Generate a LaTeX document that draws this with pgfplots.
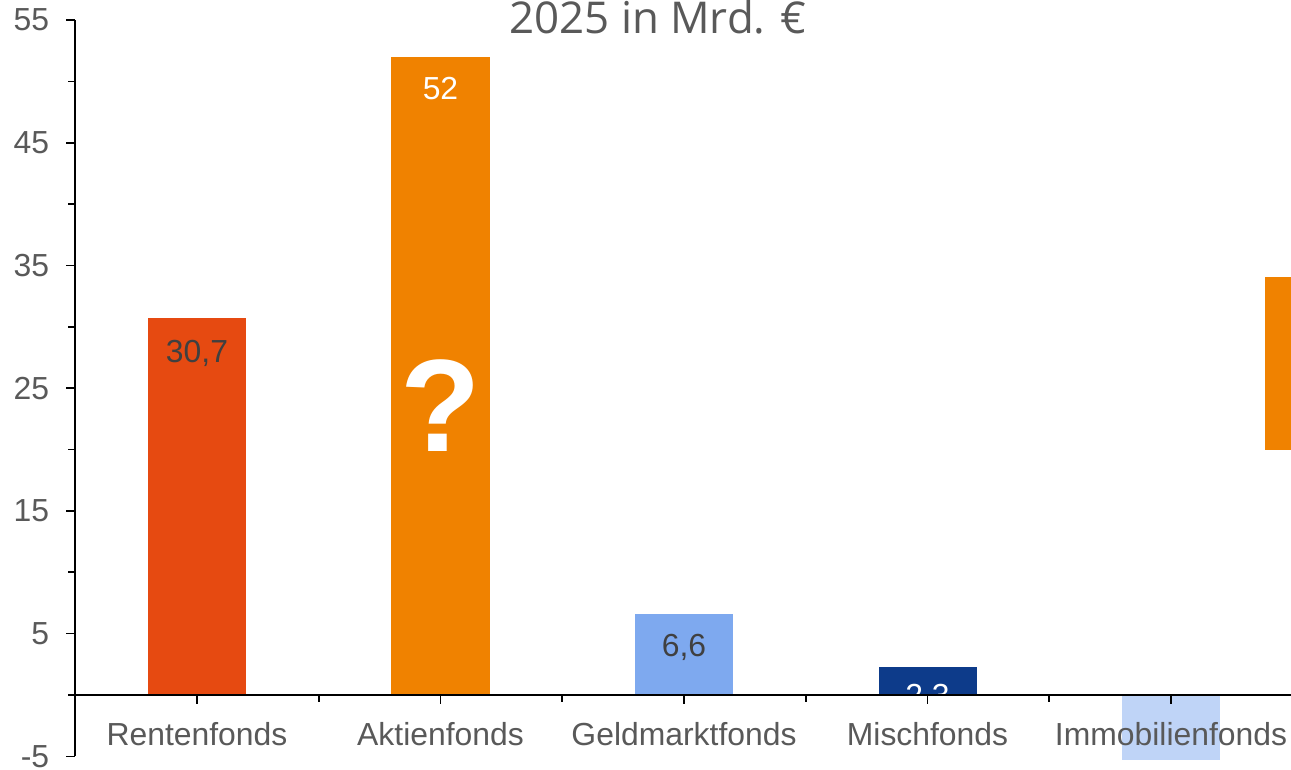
\documentclass[border=0pt]{standalone}
\usepackage{fontspec}
\setmainfont{Liberation Sans}
\newfontfamily\titlefont{Open Sans}
\usepackage{pgfplots}
\pgfplotsset{compat=1.18}
\definecolor{rent}{HTML}{E64A11}
\definecolor{akt}{HTML}{F08200}
\definecolor{geld}{HTML}{7EA9EF}
\definecolor{misch}{HTML}{0D3B8A}
\definecolor{immo}{HTML}{BFD4F7}
\definecolor{labgray}{HTML}{595959}
\definecolor{valgray}{HTML}{404040}
\begin{document}
\begin{tikzpicture}
\begin{axis}[
  x=121.75bp, y=6.135bp,
  xmin=-0.5, xmax=4.5, ymin=-5, ymax=55,
  axis x line=middle, axis y line=left,
  axis line style={-, black, line width=0.9bp},
  xtick={0,1,2,3,4},
  xticklabels={Rentenfonds,Aktienfonds,Geldmarktfonds,Mischfonds,Immobilienfonds},
  minor xtick={-0.5,0.5,1.5,2.5,3.5,4.5},
  ytick={-5,5,15,25,35,45,55},
  minor ytick={0,10,20,30,40,50},
  tick align=outside,
  major tick length=4.5bp, minor tick length=3.5bp,
  every tick/.style={black, line width=0.8bp},
  ticklabel style={font=\fontsize{16}{19}\selectfont, text=labgray},
  /pgf/number format/assume math mode=true,
  xticklabel style={yshift=-5.5bp},
  yticklabel style={xshift=-5bp},
  clip=false, axis on top,
]
\addplot[ybar, bar shift=0pt, bar width=0.4025, fill=rent, draw=none] coordinates {(0,30.7)};
\addplot[ybar, bar shift=0pt, bar width=0.4025, fill=akt, draw=none] coordinates {(1,52)};
\addplot[ybar, bar shift=0pt, bar width=0.4025, fill=geld, draw=none] coordinates {(2,6.6)};
\addplot[ybar, bar shift=0pt, bar width=0.4025, fill=misch, draw=none] coordinates {(3,2.3)};
\addplot[ybar, bar shift=0pt, bar width=0.4025, fill=immo, draw=none] coordinates {(4,-5.3)};

% value labels
\node[font=\fontsize{16}{19}\selectfont, text=valgray, yshift=-17.5bp] at (axis cs:0,30.7) {30,7};
\node[font=\fontsize{16}{19}\selectfont, text=white, yshift=-16bp] at (axis cs:1,52) {52};
\node[font=\fontsize{16}{19}\selectfont, text=valgray, yshift=-16.5bp] at (axis cs:2,6.6) {6,6};
\node[font=\fontsize{16}{19}\selectfont, text=white, yshift=-15.5bp] at (axis cs:3,2.3) {2,3};
\node[font=\fontsize{66}{70}\selectfont\bfseries, text=white] at (axis cs:1,23.55) {?};

% title, cut at the top edge
\node[font=\titlefont\fontsize{22}{25}\selectfont, text=labgray, anchor=base] at (axis cs:1.893,53.87) {2025 in Mrd. €};

% legend patch at the right edge
\fill[akt] (axis cs:4.386,20.0) rectangle (axis cs:4.6,34.1);

\coordinate (bl) at (axis cs:-0.809,-6.112);
\coordinate (tr) at (axis cs:4.4928,56.64);
\end{axis}
\pgfresetboundingbox
\path[use as bounding box] (bl) rectangle (tr);
\end{tikzpicture}
\end{document}
